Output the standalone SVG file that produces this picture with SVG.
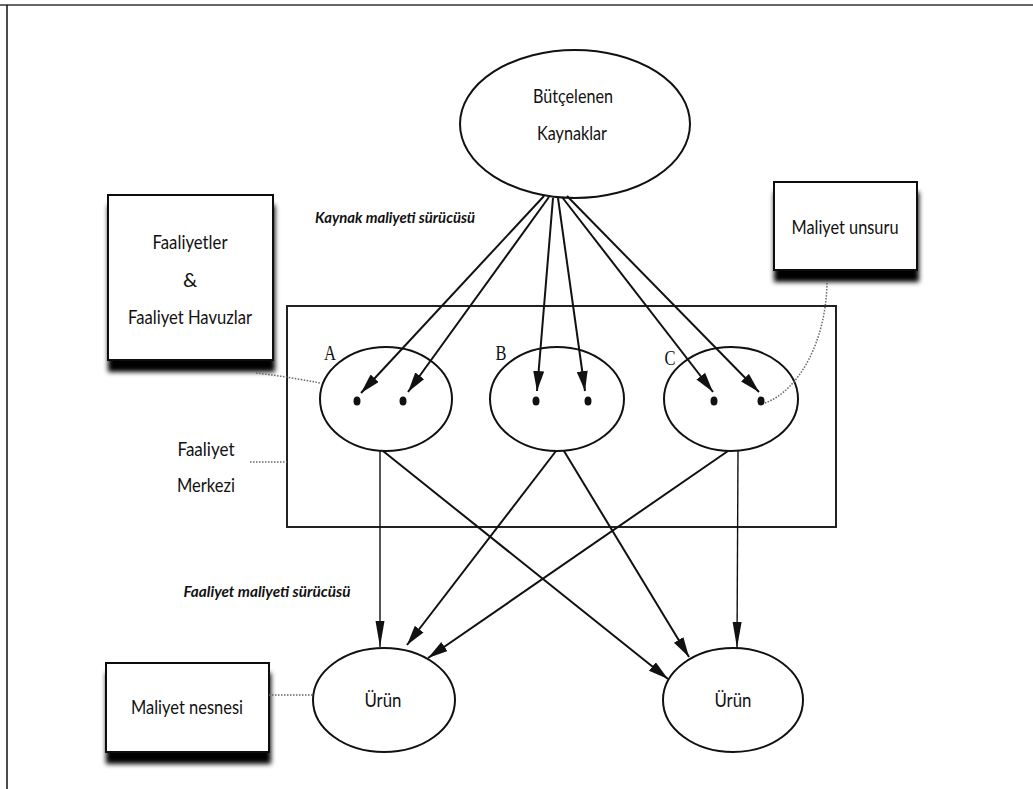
<svg xmlns="http://www.w3.org/2000/svg" width="1033" height="789" viewBox="0 0 1033 789">
  <style>
    .lbl { font-family: Lato, "Liberation Sans", sans-serif; font-size: 20px; fill: #111; text-anchor: middle; }
    .drv { font-family: Lato, "Liberation Sans", sans-serif; font-size: 16px; font-weight: bold; font-style: italic; fill: #111; text-anchor: middle; }
    .let { font-family: "Liberation Serif", serif; font-size: 20px; fill: #111; text-anchor: middle; }
    .node { fill: #fff; stroke: #111; stroke-width: 2; }
    .box { fill: #fff; stroke: #111; stroke-width: 2; }
    .arr { fill: none; stroke: #111; stroke-width: 2; }
    .thin { fill: none; stroke: #111; stroke-width: 1.4; }
    .dot { fill: none; stroke: #666; stroke-width: 1.5; stroke-dasharray: 1.5 1.5; }
  </style>
  <defs>
    <marker id="head" markerUnits="userSpaceOnUse" markerWidth="22" markerHeight="12" refX="20" refY="5.5" orient="auto">
      <path d="M0,0 L20,5.5 L0,11 Z" fill="#111"/>
    </marker>
    <marker id="headLong" markerUnits="userSpaceOnUse" markerWidth="28" markerHeight="10" refX="26" refY="4.5" orient="auto">
      <path d="M0,0 L26,4.5 L0,9 Z" fill="#111"/>
    </marker>
    <filter id="shadow" x="-10%" y="-10%" width="125%" height="140%">
      <feGaussianBlur in="SourceAlpha" stdDeviation="2.5"/>
      <feOffset dx="1" dy="11" result="off"/>
      <feMerge>
        <feMergeNode in="off"/>
        <feMergeNode in="SourceGraphic"/>
      </feMerge>
    </filter>
  </defs>

  <rect width="1033" height="789" fill="#fff"/>

  <!-- page frame -->
  <line x1="0" y1="5" x2="1033" y2="5" stroke="#666" stroke-width="2"/>
  <line x1="7" y1="5" x2="7" y2="789" stroke="#111" stroke-width="1.5"/>

  <!-- activity centre frame -->
  <g id="activity-center">
    <rect x="287" y="306" width="549" height="221" fill="none" stroke="#222" stroke-width="2"/>
    <text class="lbl" x="206" y="456" textLength="57" lengthAdjust="spacingAndGlyphs">Faaliyet</text>
    <text class="lbl" x="206" y="492" textLength="58" lengthAdjust="spacingAndGlyphs">Merkezi</text>
  </g>

  <!-- budgeted resources -->
  <g id="resources">
    <ellipse class="node" cx="575" cy="124" rx="115" ry="74"/>
    <text class="lbl" x="573" y="103" textLength="80" lengthAdjust="spacingAndGlyphs">Bütçelenen</text>
    <text class="lbl" x="572" y="140" textLength="70" lengthAdjust="spacingAndGlyphs">Kaynaklar</text>
  </g>

  <!-- activities A, B, C -->
  <g id="activity-a">
    <ellipse class="node" cx="386" cy="399" rx="66" ry="52"/>
    <ellipse cx="357" cy="401" rx="3.5" ry="4.5" fill="#111"/>
    <ellipse cx="403" cy="401" rx="3.5" ry="4.5" fill="#111"/>
    <text class="let" x="330" y="360" textLength="12" lengthAdjust="spacingAndGlyphs">A</text>
  </g>
  <g id="activity-b">
    <ellipse class="node" cx="557" cy="399" rx="67" ry="52"/>
    <ellipse cx="536" cy="401" rx="3.5" ry="4.5" fill="#111"/>
    <ellipse cx="588" cy="401" rx="3.5" ry="4.5" fill="#111"/>
    <text class="let" x="501" y="360" textLength="11" lengthAdjust="spacingAndGlyphs">B</text>
  </g>
  <g id="activity-c">
    <ellipse class="node" cx="731" cy="399" rx="67" ry="52"/>
    <ellipse cx="714" cy="401" rx="3.5" ry="4.5" fill="#111"/>
    <ellipse cx="761" cy="401" rx="3.5" ry="4.5" fill="#111"/>
    <text class="let" x="670" y="365" textLength="11" lengthAdjust="spacingAndGlyphs">C</text>
  </g>

  <!-- products -->
  <g id="product-1">
    <ellipse class="node" cx="384" cy="700" rx="71" ry="52"/>
    <text class="lbl" x="383" y="707" textLength="37" lengthAdjust="spacingAndGlyphs">Ürün</text>
  </g>
  <g id="product-2">
    <ellipse class="node" cx="733" cy="700" rx="70" ry="52"/>
    <text class="lbl" x="733" y="707" textLength="37" lengthAdjust="spacingAndGlyphs">Ürün</text>
  </g>

  <!-- callout boxes -->
  <g id="box-activities">
    <rect class="box" x="108" y="195" width="165" height="165" filter="url(#shadow)"/>
    <text class="lbl" x="190" y="249" textLength="75" lengthAdjust="spacingAndGlyphs">Faaliyetler</text>
    <text class="lbl" x="190" y="287">&amp;</text>
    <text class="lbl" x="190" y="324" textLength="124" lengthAdjust="spacingAndGlyphs">Faaliyet Havuzlar</text>
  </g>
  <g id="box-cost-element">
    <rect class="box" x="774" y="182" width="143" height="88" filter="url(#shadow)"/>
    <text class="lbl" x="845" y="234" textLength="107" lengthAdjust="spacingAndGlyphs">Maliyet unsuru</text>
  </g>
  <g id="box-cost-object">
    <rect class="box" x="106" y="663" width="163" height="89" filter="url(#shadow)"/>
    <text class="lbl" x="187" y="714" textLength="112" lengthAdjust="spacingAndGlyphs">Maliyet nesnesi</text>
  </g>

  <!-- driver labels -->
  <text class="drv" x="395" y="223" textLength="160" lengthAdjust="spacingAndGlyphs">Kaynak maliyeti sürücüsü</text>
  <text class="drv" x="267" y="597" textLength="167" lengthAdjust="spacingAndGlyphs">Faaliyet maliyeti sürücüsü</text>

  <!-- connectors -->
  <g id="connectors">
    <!-- resource drivers -->
    <line class="arr" x1="544" y1="196" x2="361" y2="393" marker-end="url(#head)"/>
    <line class="arr" x1="549" y1="197" x2="408" y2="392" marker-end="url(#head)"/>
    <line class="arr" x1="553" y1="198" x2="537" y2="391" marker-end="url(#head)"/>
    <line class="arr" x1="558" y1="198" x2="585" y2="391" marker-end="url(#head)"/>
    <line class="arr" x1="562" y1="197" x2="713" y2="392" marker-end="url(#head)"/>
    <line class="arr" x1="567" y1="196" x2="759" y2="392" marker-end="url(#head)"/>

    <!-- activity drivers -->
    <line class="thin" x1="380" y1="451" x2="380" y2="647" marker-end="url(#headLong)"/>
    <line class="arr" x1="383" y1="451" x2="668" y2="679" marker-end="url(#head)"/>
    <line class="arr" x1="556" y1="451" x2="407" y2="645" marker-end="url(#head)"/>
    <line class="arr" x1="564" y1="451" x2="689" y2="657" marker-end="url(#head)"/>
    <line class="arr" x1="728" y1="451" x2="428" y2="658" marker-end="url(#head)"/>
    <line class="thin" x1="738" y1="451" x2="737" y2="648" marker-end="url(#headLong)"/>

    <!-- callout leaders -->
    <path class="dot" d="M256,373 Q290,377 320,383"/>
    <path class="dot" d="M827,283 C826,340 800,390 765,403"/>
    <line class="dot" x1="250" y1="462" x2="287" y2="462"/>
    <line class="dot" x1="269" y1="695" x2="313" y2="695"/>
  </g>
</svg>
